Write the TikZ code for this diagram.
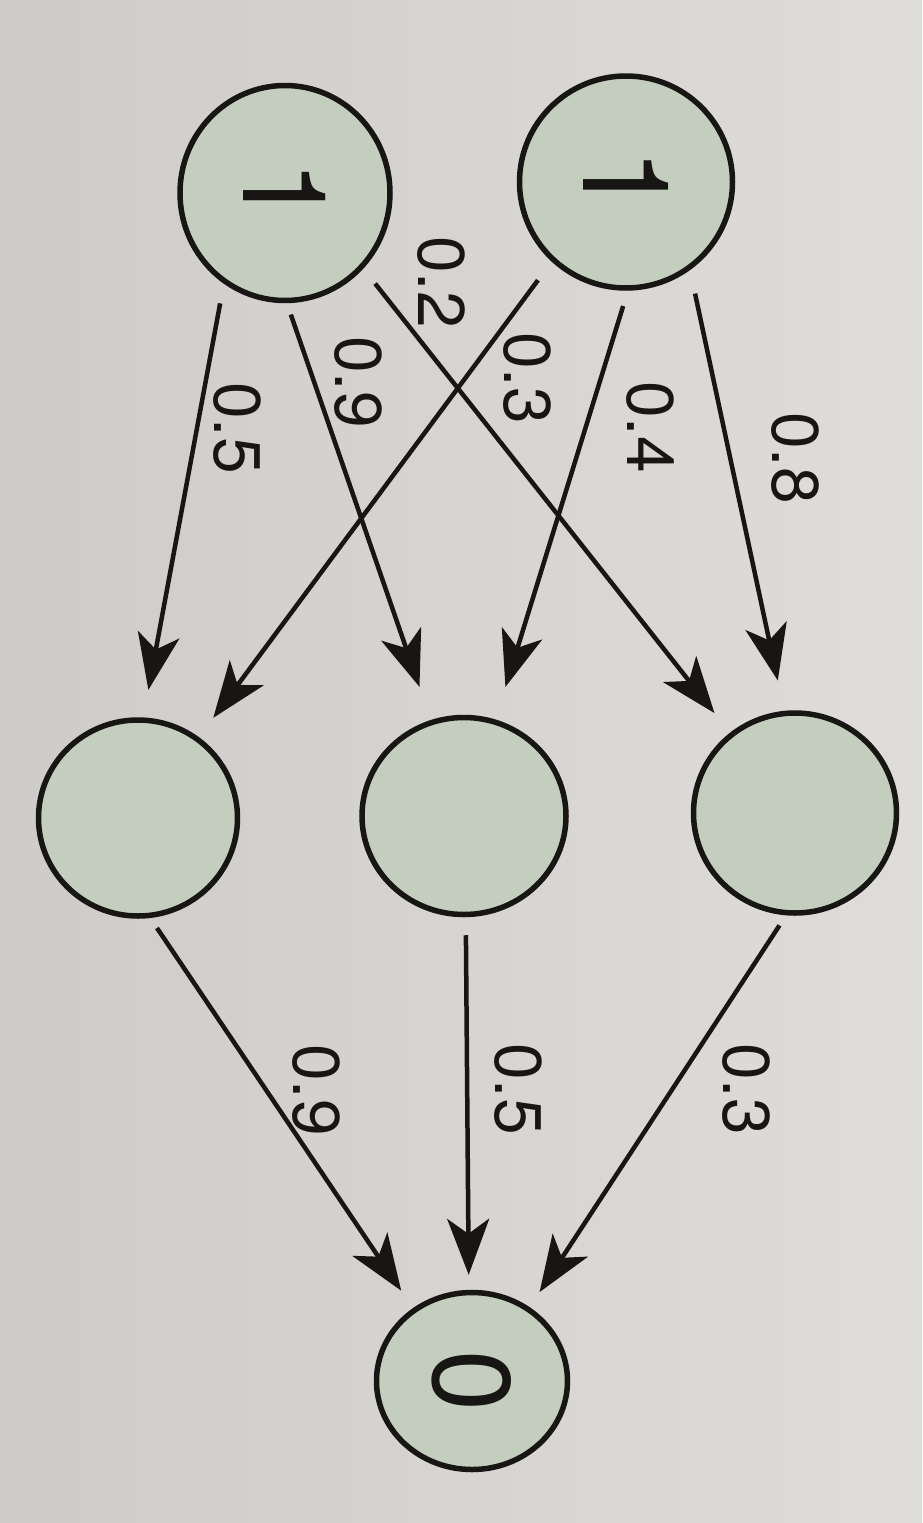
\documentclass[tikz,border=0pt]{standalone}
\usepackage{fontspec}
\setmainfont{TeX Gyre Heros}
\usetikzlibrary{arrows.meta,shapes.geometric}
\definecolor{bgleft}{RGB}{206,204,200}
\definecolor{bgright}{RGB}{222,221,217}
\definecolor{fillcol}{RGB}{196,206,190}
\definecolor{inkcol}{RGB}{24,21,21}
\begin{document}
\begin{tikzpicture}[x=1pt,y=-1pt,
  neuron/.style={ellipse, draw=inkcol, line width=5.5pt, fill=fillcol, inner sep=0pt},
  wt/.style={font=\fontsize{66}{66}\selectfont, text=inkcol, rotate=-90, inner sep=0pt},
  conn/.style={draw=inkcol, line width=4.5pt, -{Stealth[length=56pt,width=42pt,inset=15pt]}}
]
\useasboundingbox (0,0) rectangle (922,1523);
\shade[left color=bgleft, right color=bgright] (0,0) rectangle (922,1523);

% input layer
\node[neuron, minimum width=210pt, minimum height=215pt] (A) at (285,193) {\rotatebox{-90}{\fontsize{116}{116}\selectfont\color{inkcol}1}};
\node[neuron, minimum width=213pt, minimum height=212pt] (B) at (626,182) {\rotatebox{-90}{\fontsize{120}{120}\selectfont\color{inkcol}1}};
% hidden layer
\node[neuron, minimum width=199pt, minimum height=196pt] (H1) at (138,818) {};
\node[neuron, minimum width=204pt, minimum height=197pt] (H2) at (464,816) {};
\node[neuron, minimum width=203pt, minimum height=200pt] (H3) at (795,813) {};
% output
\node[neuron, minimum width=191pt, minimum height=177pt] (O) at (472,1381) {\rotatebox{-90}{\fontsize{110}{110}\selectfont\color{inkcol}0}};

% connectors
\draw[conn, shorten <=20pt, shorten >=28pt] (A.236) -- (H1.87);
\draw[conn, shorten <=12pt, shorten >=35pt] (A.271) -- (H2.109);
\draw[conn, shorten <=19pt, shorten >=25pt] (A.316) -- (H3.129);
\draw[conn, shorten <=23pt, shorten >=24pt] (B.227) -- (H1.53);
\draw[conn, shorten <=16pt, shorten >=34pt] (B.271) -- (H2.72);
\draw[conn, shorten <=24pt, shorten >=31pt] (B.306) -- (H3.96);
\draw[conn, shorten <=12pt, shorten >=21pt] (H1.277) -- (O.129);
\draw[conn, shorten <=18pt, shorten >=15pt] (H2.271) -- (O.92);
\draw[conn, shorten <=12pt, shorten >=18pt] (H3.265) -- (O.52);

% weights
\node[wt] (w1) at (237,428) {0.5};
\node[wt] (w2) at (358,382) {0.9};
\node[wt] (w3) at (441,282) {0.2};
\node[wt] (w4) at (527,378) {0.3};
\node[wt] (w5) at (650,427) {0.4};
\node[wt] (w6) at (795,458) {0.8};
\node[wt] (w7) at (316,1090) {0.9};
\node[wt] (w8) at (518,1089) {0.5};
\node[wt] (w9) at (746,1089) {0.3};
\end{tikzpicture}
\end{document}
